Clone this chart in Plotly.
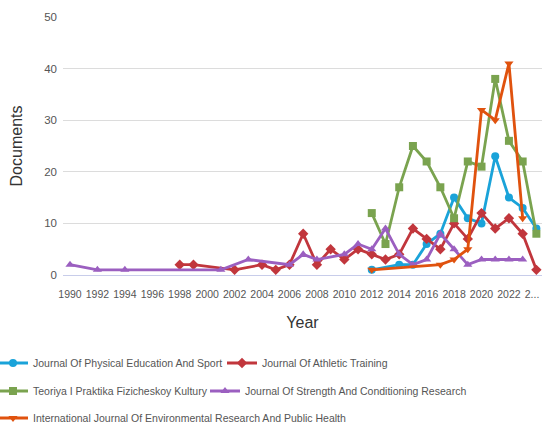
import plotly.graph_objects as go

# ---- data ----
jpes_years = [2012, 2014, 2015, 2016, 2017, 2018, 2019, 2020, 2021, 2022, 2023, 2024]
jpes_docs = [1, 2, 2, 6, 8, 15, 11, 10, 23, 15, 13, 9]

jat_years = [1998, 1999, 2002, 2004, 2005, 2006, 2007, 2008, 2009, 2010, 2011, 2012, 2013,
             2014, 2015, 2016, 2017, 2018, 2019, 2020, 2021, 2022, 2023, 2024]
jat_docs = [2, 2, 1, 2, 1, 2, 8, 2, 5, 3, 5, 4, 3, 4, 9, 7, 5, 10, 7, 12, 9, 11, 8, 1]

tpfk_years = [2012, 2013, 2014, 2015, 2016, 2017, 2018, 2019, 2020, 2021, 2022, 2023, 2024]
tpfk_docs = [12, 6, 17, 25, 22, 17, 11, 22, 21, 38, 26, 22, 8]

jscr_years = [1990, 1992, 1994, 2001, 2003, 2006, 2007, 2008, 2010, 2011, 2012, 2013, 2014,
              2015, 2016, 2017, 2018, 2019, 2020, 2021, 2022, 2023]
jscr_docs = [2, 1, 1, 1, 3, 2, 4, 3, 4, 6, 5, 9, 4, 2, 3, 8, 5, 2, 3, 3, 3, 3]

ijerph_years = [2012, 2017, 2018, 2019, 2020, 2021, 2022, 2023]
ijerph_docs = [1, 2, 3, 5, 32, 30, 41, 11]

tick_years = list(range(1990, 2025, 2))
tick_labels = [str(y) for y in tick_years[:-1]] + ["2...\u00a0\u00a0\u00a0"]

series = [
    ("Journal Of Physical Education And Sport", jpes_years, jpes_docs, "#1aa3d9", "circle"),
    ("Journal Of Athletic Training", jat_years, jat_docs, "#c1363c", "diamond"),
    ("Teoriya I Praktika Fizicheskoy Kultury", tpfk_years, tpfk_docs, "#7aa34f", "square"),
    ("Journal Of Strength And Conditioning Research", jscr_years, jscr_docs, "#9b5fc0", "triangle-up"),
    ("International Journal Of Environmental Research And Public Health", ijerph_years, ijerph_docs, "#e0520e", "triangle-down"),
]
legend_ids = ["legend", "legend2", "legend3", "legend4", "legend5"]

fig = go.Figure()
for (name, xs, ys, color, sym), lg in zip(series, legend_ids):
    fig.add_trace(go.Scatter(
        x=xs, y=ys, name=name, mode="lines+markers",
        line=dict(color=color, width=2.8),
        marker=dict(color=color, symbol=sym, size=8),
        legend=lg, showlegend=True,
    ))

small = "Liberation Sans, Arial, sans-serif"
title_font = "Liberation Sans, Arial, sans-serif"
legend_common = dict(orientation="h", xanchor="left", yanchor="middle",
                     font=dict(family=small, size=10.5, color="#555"),
                     bgcolor="rgba(0,0,0,0)", itemwidth=30, visible=True)

W, H = 542, 424
PLOT_L, PLOT_R, PLOT_T, PLOT_B = 63, 542, 17, 275
PLOT_W, PLOT_H = PLOT_R - PLOT_L, PLOT_B - PLOT_T

def lx(text_px):
    return (text_px - 40 - PLOT_L) / PLOT_W

def ly(row_py):
    return (PLOT_B - row_py) / PLOT_H

fig.update_layout(
    width=W, height=H, showlegend=True,
    margin=dict(l=PLOT_L, r=W - PLOT_R, t=PLOT_T, b=H - PLOT_B, autoexpand=False),
    paper_bgcolor="white", plot_bgcolor="white",
    font=dict(family=small, color="#555"),
    xaxis=dict(
        range=[1989.49, 2024.41], tickvals=tick_years, ticktext=tick_labels,
        tickangle=0, automargin=False, ticklabelstandoff=9, ticklabeloverflow="allow",
        showgrid=False, zeroline=False, showline=True, linecolor="#c8cdea", linewidth=1,
        tickfont=dict(family=small, size=10.5, color="#555"), ticks="",
        title=dict(text="Year", font=dict(family=title_font, size=16, color="#333"), standoff=18),
    ),
    yaxis=dict(
        range=[0, 50], tickvals=[0, 10, 20, 30, 40, 50], automargin=False,
        ticklabelstandoff=5,
        showgrid=True, gridcolor="#dcdcdc", gridwidth=1, zeroline=False, showline=False,
        tickfont=dict(family=small, size=11.5, color="#555"), ticks="",
        title=dict(text="Documents", font=dict(family=title_font, size=16, color="#333"), standoff=17),
    ),
    legend=dict(x=lx(33), y=ly(363), **legend_common),
    legend2=dict(x=lx(262), y=ly(363), **legend_common),
    legend3=dict(x=lx(33), y=ly(391), **legend_common),
    legend4=dict(x=lx(245), y=ly(391), **legend_common),
    legend5=dict(x=lx(33), y=ly(418), **legend_common),
)

fig.write_html(
    "out.html",
    config={"displayModeBar": False},
    post_script="document.body.style.margin='0';document.body.style.overflow='hidden';",
)
